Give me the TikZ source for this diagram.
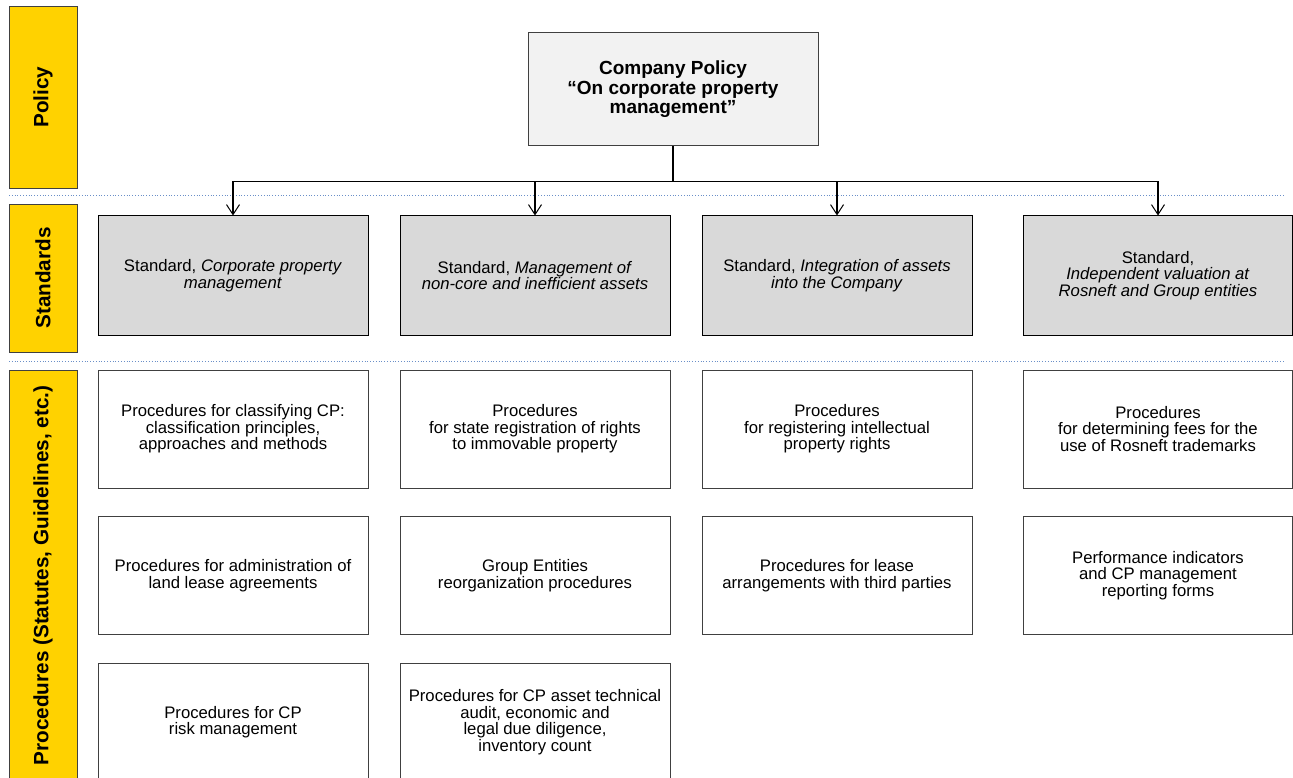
\documentclass[tikz,border=0pt]{standalone}
\usepackage{fontspec}
\setmainfont{Liberation Sans}
\usetikzlibrary{arrows.meta}
\definecolor{baryellow}{HTML}{FFD200}
\definecolor{stdgray}{HTML}{D9D9D9}
\definecolor{polgray}{HTML}{F2F2F2}
\definecolor{sepblue}{HTML}{6A8FC8}
\definecolor{edgegray}{HTML}{404040}
\tikzset{
  bar/.style={draw=edgegray, line width=0.8pt, fill=baryellow, rotate=90, align=center,
    font=\fontsize{20.7}{22}\selectfont\bfseries, inner sep=0pt},
  polbox/.style={draw=edgegray, line width=1pt, fill=polgray, align=center, inner sep=0pt,
    minimum width=290pt, minimum height=113pt, font=\fontsize{19}{19.5}\selectfont\bfseries},
  stdbox/.style={draw=black, line width=1pt, fill=stdgray, align=center, inner sep=0pt,
    minimum width=270pt, minimum height=119pt, font=\fontsize{16.7}{16.5}\selectfont},
  procbox/.style={draw=edgegray, line width=1pt, fill=white, align=center, inner sep=0pt,
    minimum width=270pt, minimum height=118pt, font=\fontsize{16.7}{16.5}\selectfont},
  sepline/.style={draw=sepblue, line width=0.8pt, dotted},
  conn/.style={draw=black, line width=1.4pt},
  arr/.style={draw=black, line width=1.2pt, -{Straight Barb[length=10pt,width=13pt,line width=1pt]}}
}
\begin{document}
\begin{tikzpicture}[x=1pt,y=-1pt]
\useasboundingbox (0,0) rectangle (1293,778);

% left bars
\node[bar, minimum width=182pt, minimum height=68pt] (bpol) at (43,97) {Policy};
\node[bar, minimum width=148pt, minimum height=68pt] (bstd) at (43,278) {Standards};
\node[bar, minimum width=411pt, minimum height=68pt] (bproc) at (43,575.5) {Procedures (Statutes, Guidelines, etc.)};

% separators
\coordinate (sepA1) at (9,195.5);
\coordinate (sepA2) at (1285,195.5);
\coordinate (sepB1) at (9,361.5);
\coordinate (sepB2) at (1285,361.5);
\draw[sepline] (sepA1) -- (sepA2);
\draw[sepline] (sepB1) -- (sepB2);

% policy
\node[polbox] (pol) at (673,89.5) {Company Policy\\\textquotedblleft On corporate property\\management\textquotedblright};

% standards
\node[stdbox] (s1) at (233,275.5) {Standard, \textit{Corporate property}\\\textit{management}};
\node[stdbox] (s2) at (535,275.5) {Standard, \textit{Management of}\\\textit{non-core and inefficient assets}};
\node[stdbox] (s3) at (837,275.5) {Standard, \textit{Integration of assets}\\\textit{into the Company}};
\node[stdbox, minimum width=269pt] (s4) at (1158,275.5) {Standard,\\\textit{Independent valuation at}\\\textit{Rosneft and Group entities}};

% connectors
\coordinate (bus) at (673,181.5);
\draw[conn] (pol.south) -- (bus);
\draw[conn] (bus) -- (bus -| s1.north) -- (bus -| s4.north);
\draw[arr] (bus -| s1.north) -- (s1.north);
\draw[arr] (bus -| s2.north) -- (s2.north);
\draw[arr] (bus -| s3.north) -- (s3.north);
\draw[arr] (bus -| s4.north) -- (s4.north);

% procedures row 1
\node[procbox] (p11) at (233,429) {Procedures for classifying CP:\\classification principles,\\approaches and methods};
\node[procbox] (p12) at (535,429) {Procedures\\for state registration of rights\\to immovable property};
\node[procbox] (p13) at (837,429) {Procedures\\for registering intellectual\\property rights};
\node[procbox, minimum width=269pt] (p14) at (1158,429) {Procedures\\for determining fees for the\\use of Rosneft trademarks};
% row 2
\node[procbox] (p21) at (233,575.5) {Procedures for administration of\\land lease agreements};
\node[procbox] (p22) at (535,575.5) {Group Entities\\reorganization procedures};
\node[procbox] (p23) at (837,575.5) {Procedures for lease\\arrangements with third parties};
\node[procbox, minimum width=269pt] (p24) at (1158,575.5) {Performance indicators\\and CP management\\reporting forms};
% row 3
\node[procbox] (p31) at (233,722) {Procedures for CP\\risk management};
\node[procbox] (p32) at (535,722) {Procedures for CP asset technical\\audit, economic and\\legal due diligence,\\inventory count};
\end{tikzpicture}
\end{document}
